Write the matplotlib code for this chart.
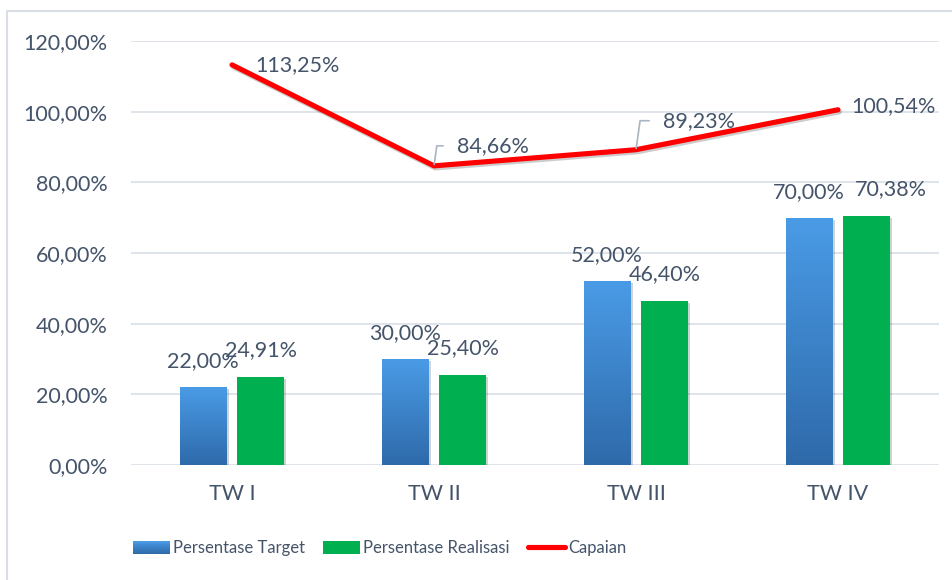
import numpy as np
import matplotlib.pyplot as plt
import matplotlib.patheffects as pe
from matplotlib.patches import Rectangle
from matplotlib.lines import Line2D
from matplotlib.legend_handler import HandlerBase
from matplotlib.colors import LinearSegmentedColormap

plt.rcParams['font.family'] = ['Lato', 'DejaVu Sans']

# data
kategori = ['TW I', 'TW II', 'TW III', 'TW IV']
target = [22.00, 30.00, 52.00, 70.00]
realisasi = [24.91, 25.40, 46.40, 70.38]
capaian = [113.25, 84.66, 89.23, 100.54]

teks = '#44546A'
biru = LinearSegmentedColormap.from_list('biru', ['#2E6AAA', '#4A9BE6'])
hijau = '#00B050'
merah = '#FF0000'
grid_c = '#DCE1E8'
fs = 15.5    # sumbu & label data
fs_leg = 12  # legenda


def fmt(v):
    return f'{v:.2f}%'.replace('.', ',')


class HandlerGradien(HandlerBase):
    def create_artists(self, legend, orig_handle, xdescent, ydescent,
                       width, height, fontsize, trans):
        n = 14
        out = []
        for i in range(n):
            r = Rectangle((-xdescent, -ydescent + height * i / n), width,
                          height / n * 1.05, facecolor=biru(i / (n - 1)),
                          edgecolor='none', transform=trans)
            out.append(r)
        return out


fig = plt.figure(figsize=(9.53, 5.8), dpi=100)
ax = fig.add_axes([131 / 953, 115 / 580, 808 / 953, 424 / 580])

x = np.arange(len(kategori))
w = 0.232
off = 0.143
bayang = [pe.SimplePatchShadow(offset=(1.5, -1.5), alpha=0.2), pe.Normal()]

bar_t = ax.bar(x - off, target, w, color='#3F86D0', zorder=2, path_effects=bayang)
grad = np.linspace(0, 1, 256).reshape(-1, 1)
for b in bar_t:
    im = ax.imshow(grad, extent=[b.get_x(), b.get_x() + b.get_width(), 0, b.get_height()],
                   origin='lower', cmap=biru, aspect='auto', zorder=2.1)
    im.set_clip_path(b)

bar_r = ax.bar(x + off, realisasi, w, color=hijau, zorder=2, path_effects=bayang)

garis, = ax.plot(x, capaian, color=merah, lw=3.7, solid_capstyle='round', zorder=4,
                 path_effects=[pe.SimpleLineShadow(offset=(1, -1.5), alpha=0.2), pe.Normal()])

# label batang
for xi, v in zip(x - off, target):
    ax.annotate(fmt(v), (xi, v), xytext=(0, 26), textcoords='offset pixels',
                ha='center', va='center', fontsize=fs, color=teks, zorder=5)
geser_r = [0, 0, 0, 24]
for xi, v, dx in zip(x + off, realisasi, geser_r):
    ax.annotate(fmt(v), (xi, v), xytext=(dx, 27), textcoords='offset pixels',
                ha='center', va='center', fontsize=fs, color=teks, zorder=5)

# label garis
geser = [(23, 0), (23, 20), (27, 29), (13, 4)]
leader = [False, True, True, False]
for xi, v, d, ld in zip(x, capaian, geser, leader):
    ap = None
    if ld:
        ap = dict(arrowstyle='-', color='#A9B4C2', lw=1.2, shrinkA=8, shrinkB=1,
                  relpos=(0, 0.5), connectionstyle='angle,angleA=0,angleB=82,rad=0')
    ax.annotate(fmt(v), (xi, v), xytext=d, textcoords='offset pixels',
                ha='left', va='center', fontsize=fs, color=teks, zorder=5,
                arrowprops=ap)

ax.set_xlim(-0.5, len(kategori) - 0.5)
ax.set_ylim(0, 120)
ax.set_yticks(np.arange(0, 121, 20))
ax.set_yticklabels([fmt(v) for v in np.arange(0, 121, 20)])
ax.set_xticks(x)
ax.set_xticklabels(kategori)
ax.tick_params(length=0, labelsize=fs, colors=teks)
ax.tick_params(axis='y', pad=17)
ax.tick_params(axis='x', pad=14)
for s in ax.spines.values():
    s.set_visible(False)
ax.grid(axis='y', color=grid_c, lw=1.3, zorder=0)
ax.set_axisbelow(True)

h_t = Rectangle((0, 0), 1, 1)
h_r = Rectangle((0, 0), 1, 1, facecolor=hijau)
h_c = Line2D([], [], color=merah, lw=3.7, solid_capstyle='round')
fig.legend([h_t, h_r, h_c], ['Persentase Target', 'Persentase Realisasi', 'Capaian'],
           handler_map={h_t: HandlerGradien()},
           loc='center left', bbox_to_anchor=(133 / 953, 1 - 548 / 580),
           ncol=3, frameon=False, fontsize=fs_leg, labelcolor=teks,
           borderpad=0, borderaxespad=0, handlelength=2.2, handleheight=0.8,
           handletextpad=0.2, columnspacing=1.1)

fig.patches.append(Rectangle((7 / 953, -0.1), 1.2, 1.1 - 11 / 580, transform=fig.transFigure,
                             fill=False, edgecolor='#D9DEE6', lw=1.5))

fig.savefig('out.png', dpi=100)
